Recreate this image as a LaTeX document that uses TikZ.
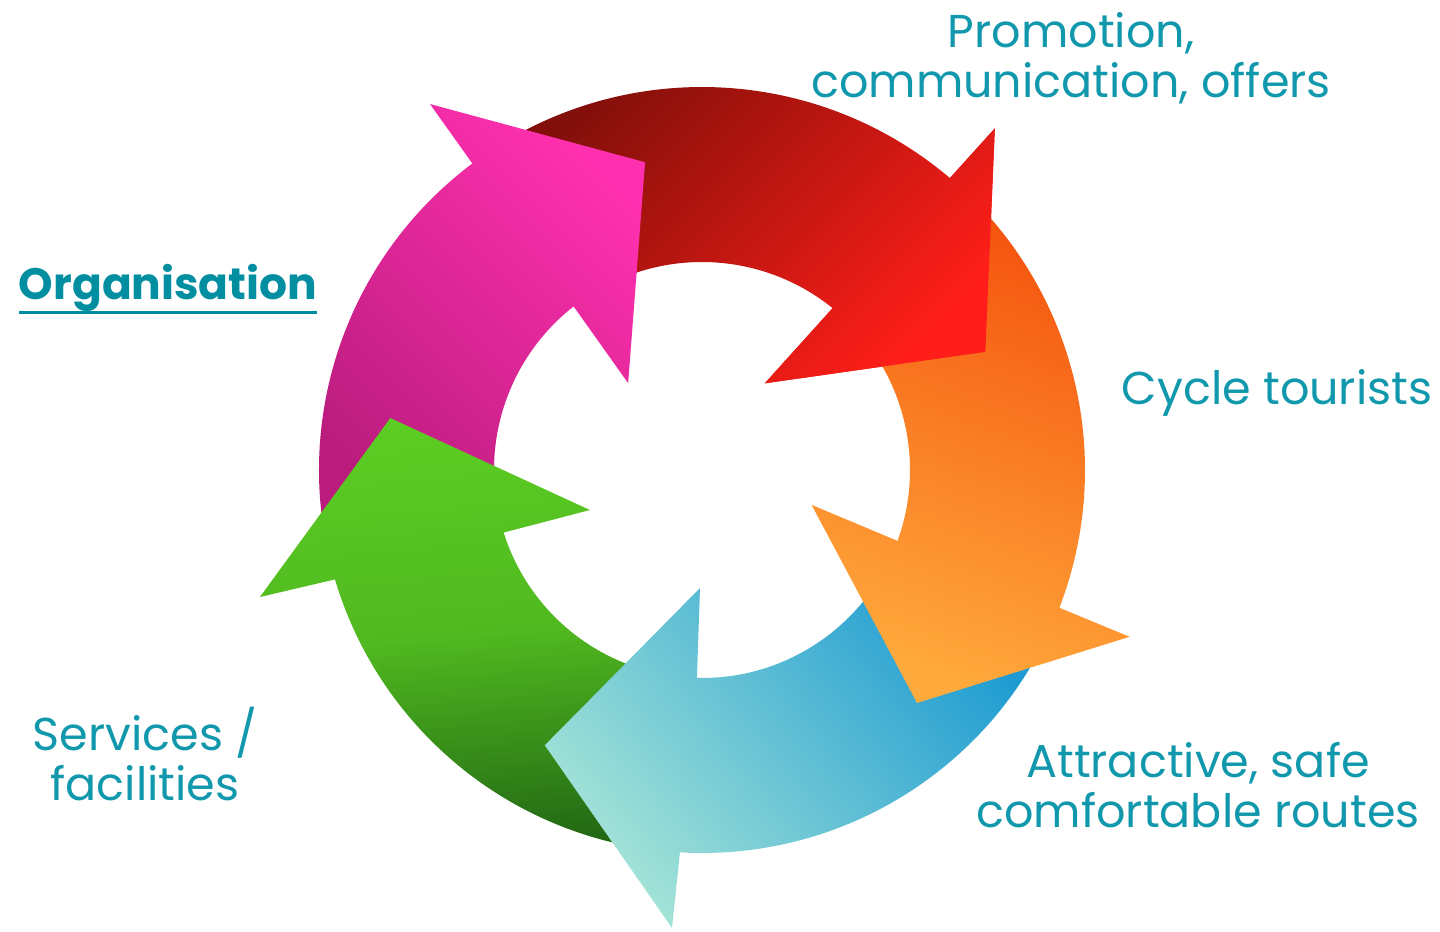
\documentclass[tikz,border=0pt]{standalone}
\usepackage{fontspec}
\setmainfont{Poppins}
\newcommand{\orgline}[1]{\setbox0\hbox{#1}\rlap{\rule[-4.4pt]{\wd0}{1pt}}\box0}
\definecolor{labelteal}{RGB}{18,152,172}
\definecolor{orgteal}{RGB}{0,142,160}
\definecolor{redA}{RGB}{130,15,10}
\definecolor{redB}{RGB}{255,30,25}
\definecolor{orangeA}{RGB}{245,85,15}
\definecolor{orangeB}{RGB}{255,170,60}
\definecolor{blueA}{RGB}{30,155,210}
\definecolor{blueB}{RGB}{165,228,215}
\definecolor{greenA}{RGB}{92,205,35}
\definecolor{greenB}{RGB}{35,105,20}
\definecolor{pinkA}{RGB}{255,48,175}
\definecolor{pinkB}{RGB}{185,28,125}
\newcommand{\ringarrow}[9]{(#1:3.83) arc[start angle=#1, end angle=#2, radius=3.83]
  -- (#4:#5) -- (#6:#7) -- (#8:#9) -- (#3:2.08) arc[start angle=#3, end angle=#1, radius=2.08] -- cycle}
\begin{document}
\begin{tikzpicture}[label/.style={text=labelteal, font=\fontsize{13.1}{14.2}\selectfont, align=center, inner sep=0pt},
    redarrow/.style={top color=redA, bottom color=redB, shading angle=45},
    orangearrow/.style={top color=orangeA, bottom color=orangeB, shading angle=-20},
    bluearrow/.style={top color=blueA, bottom color=blueB, shading angle=-50},
    greenarrow/.style={top color=greenA, bottom color=greenB, middle color=greenA!80!greenB, shading angle=5},
    pinkarrow/.style={top color=pinkA, bottom color=pinkB, shading angle=-45}]
    \useasboundingbox (0,0) rectangle (14.4,9.31);
    \begin{scope}[shift={(7.02,4.61)}]
        \shade[redarrow] \ringarrow{120}{49.67}{51.1}{49.4}{4.50}{22.63}{3.07}{54.09}{1.07};
        \shade[pinkarrow] \ringarrow{190}{126.84}{128.12}{126.62}{4.56}{100.48}{3.13}{130.38}{1.14};
        \shade[greenarrow] \ringarrow{260}{196.6}{197.5}{196.03}{4.60}{170.54}{3.16}{199.65}{1.19};
        \shade[bluearrow] \ringarrow{-28}{-93.3}{-91.4}{-93.75}{4.59}{-119.73}{3.17}{-90.97}{1.18};
        \shade[orangearrow] \ringarrow{43}{-21.08}{-19.93}{-21.31}{4.59}{-47.3}{3.17}{-17.65}{1.15};
        \begin{scope}
            \clip (49.4:4.50) -- (22.63:3.07) -- (54.09:1.07) -- cycle;
            \shade[redarrow] \ringarrow{120}{49.67}{51.1}{49.4}{4.50}{22.63}{3.07}{54.09}{1.07};
        \end{scope}
    \end{scope}
    \node[label, anchor=base] (promo) at (10.71,8.34) {Promotion,\\communication, offers};
    \node[label, anchor=base, text=orgteal, font=\fontsize{12.5}{14.2}\selectfont\bfseries] (organisation) at (1.68,6.32) {\orgline{Organisation}};
    \node[label, anchor=base] (tourists) at (12.77,5.27) {Cycle tourists};
    \node[label, anchor=base] (routes) at (11.98,1.04) {Attractive, safe\\comfortable routes};
    \node[label, anchor=base] (services) at (1.45,1.31) {Services /\\facilities};
\end{tikzpicture}
\end{document}
